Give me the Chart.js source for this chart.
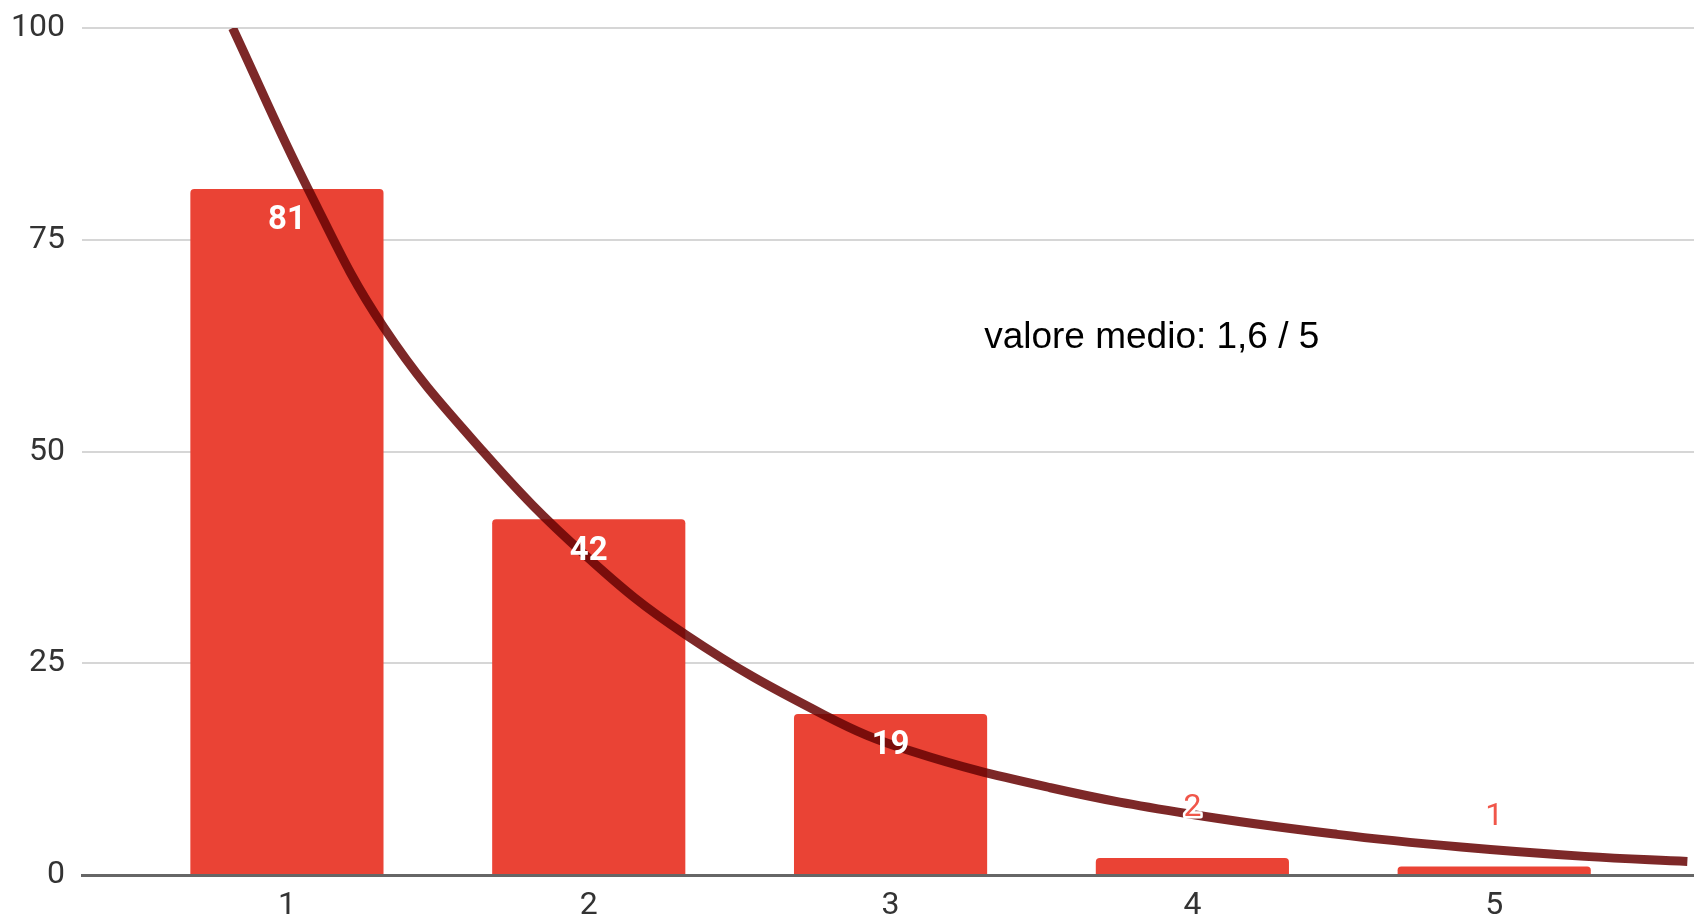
<!DOCTYPE html>
<html>
<head>
<meta charset="utf-8">
<script src="https://cdn.jsdelivr.net/npm/chart.js@4.4.1/dist/chart.umd.min.js"></script>
<style>
  html, body { margin: 0; padding: 0; background: #fff; }
  #wrap { width: 1694px; height: 922px; position: relative; }
</style>
</head>
<body>
<div id="wrap"><canvas id="mychart"></canvas></div>
<script>
// bars: answers per score
var scores = [1, 2, 3, 4, 5];
var counts = [81, 42, 19, 2, 1];

// exponential trendline
var trendX = [0.82, 1.07, 1.32, 1.65, 1.99, 2.32, 2.78, 3.07, 3.53, 3.99, 4.48, 4.89, 5.30, 5.64];
var trendY = [100, 81, 64.7, 50, 37.7, 28.4, 18.9, 14.6, 10.3, 7.2, 4.8, 3.3, 2.2, 1.6];

var xTicks = [1, 2, 3, 4, 5];
var yTicks = [0, 25, 50, 75, 100];
var note = 'valore medio: 1,6 / 5';

var red = '#ea4335';

var barPoints = scores.map(function (s, i) { return { x: s, y: counts[i] }; });
var trendPoints = trendX.map(function (x, i) { return { x: x, y: trendY[i] }; });

// value labels on the bars + the free text note
var labelPlugin = {
  id: 'labels',
  afterDatasetsDraw: function (chart) {
    var ctx = chart.ctx;
    var meta = chart.getDatasetMeta(0);
    ctx.save();
    ctx.textAlign = 'center';
    ctx.textBaseline = 'middle';
    meta.data.forEach(function (bar, i) {
      var txt = String(counts[i]);
      if (bar.base - bar.y > 45) {
        ctx.font = 'bold 33px Roboto';
        ctx.fillStyle = '#fff';
        ctx.fillText(txt, bar.x, bar.y + 32);
      } else {
        ctx.font = '32px Roboto';
        ctx.lineWidth = 5;
        ctx.strokeStyle = '#fff';
        ctx.lineJoin = 'round';
        ctx.strokeText(txt, bar.x, bar.y - 50);
        ctx.fillStyle = '#f0564a';
        ctx.fillText(txt, bar.x, bar.y - 50);
      }
    });
    var xs = chart.scales.x, ys = chart.scales.y;
    ctx.textAlign = 'left';
    ctx.font = '37px "Liberation Sans", Arial, sans-serif';
    ctx.fillStyle = '#000';
    ctx.fillText(note, xs.getPixelForValue(3.31), ys.getPixelForValue(63.4));
    ctx.restore();
  }
};

var ctx = document.getElementById('mychart').getContext('2d');
var chart = new Chart(ctx, {
  type: 'bar',
  data: {
    datasets: [{
      type: 'bar',
      data: barPoints,
      backgroundColor: red,
      borderRadius: { topLeft: 4, topRight: 4 },
      borderSkipped: 'bottom',
      categoryPercentage: 1,
      barPercentage: 0.64,
      order: 1
    }, {
      type: 'line',
      data: trendPoints,
      borderColor: 'rgba(104, 5, 5, 0.86)',
      borderWidth: 9,
      pointRadius: 0,
      tension: 0.4,
      fill: false,
      clip: 0,
      order: 0
    }]
  },
  options: {
    responsive: true,
    maintainAspectRatio: false,
    animation: false,
    layout: { padding: 0 },
    plugins: { legend: { display: false }, tooltip: { enabled: false } },
    scales: {
      x: {
        type: 'linear',
        offset: false,
        min: 0.321,
        max: 5.662,
        afterBuildTicks: function (s) { s.ticks = xTicks.map(function (v) { return { value: v }; }); },
        afterFit: function (s) { s.height = 47; },
        grid: { display: false, drawTicks: false, offset: false },
        border: { display: true, color: '#666', width: 3 },
        ticks: { color: '#333', font: { family: 'Roboto', size: 32 }, padding: 12 }
      },
      y: {
        min: 0,
        max: 100,
        afterBuildTicks: function (s) { s.ticks = yTicks.map(function (v) { return { value: v }; }); },
        afterFit: function (s) { s.width = 82; s.paddingTop = 28; },
        grid: { color: '#d6d6d6', lineWidth: 2, drawTicks: false },
        border: { display: false },
        ticks: { color: '#333', font: { family: 'Roboto', size: 32 }, padding: 17 }
      }
    }
  },
  plugins: [labelPlugin]
});
</script>
</body>
</html>
